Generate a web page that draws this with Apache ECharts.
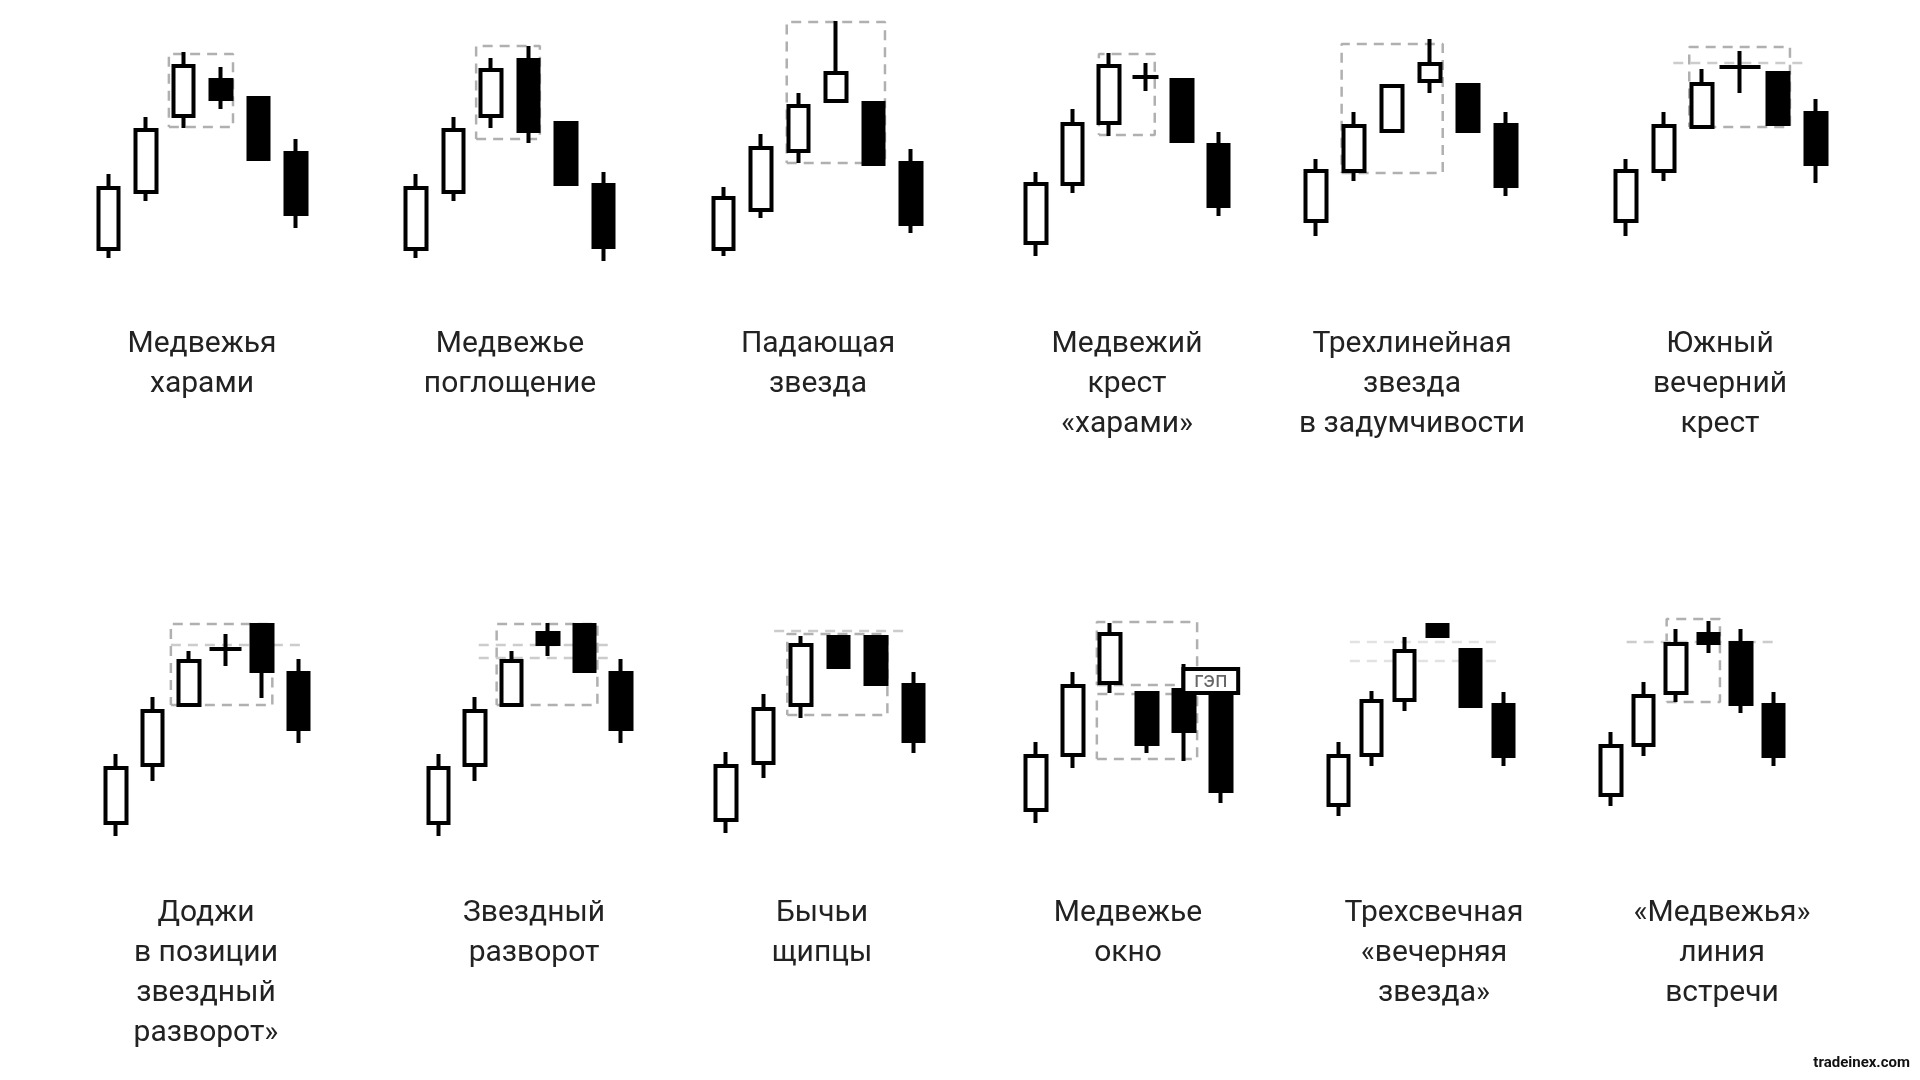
<!DOCTYPE html>
<html>
<head>
<meta charset="utf-8">
<script src="https://cdn.jsdelivr.net/npm/echarts@6/dist/echarts.min.js"></script>
<style>
  html, body { margin: 0; padding: 0; background: #fff; }
  #chart { width: 1920px; height: 1080px; }
</style>
</head>
<body>
<div id="chart"></div>
<script>
  // свечи: [open, close, low, high]; цена в пикселях от низа панели
  const haramiCandles = [[21, 82, 12, 96], [78, 140, 69, 153], [154, 204, 142, 218], [190, 171, 161, 203], [172, 111, 111, 172], [117, 56, 42, 131]];
  const engulfingCandles = [[21, 82, 12, 96], [78, 140, 69, 153], [154, 200, 142, 212], [210, 139, 127, 224], [147, 86, 86, 147], [85, 23, 9, 98]];
  const shootingCandles = [[21, 72, 14, 83], [60, 122, 52, 136], [119, 164, 107, 177], [169, 197, 169, 249], [167, 106, 106, 167], [107, 46, 37, 121]];
  const crossHaramiCandles = [[27, 86, 14, 98], [86, 146, 77, 161], [147, 204, 134, 217], '-', [190, 129, 129, 190], [125, 64, 54, 138]];
  const crossHaramiDoji = ['-', '-', '-', [193, 193, 179, 207], '-', '-'];
  const threeLineCandles = [[49, 99, 34, 111], [99, 144, 89, 158], [139, 184, 139, 184], [189, 206, 177, 231], [185, 139, 139, 185], [145, 84, 74, 158]];
  const southCrossCandles = [[49, 99, 34, 111], [99, 144, 89, 158], [143, 186, 143, 201], '-', [197, 146, 146, 197], [157, 106, 87, 171]];
  const southCrossDoji = ['-', '-', '-', [203, 203, 177, 219], '-', '-'];
  const dojiStarCandles = [[37, 92, 24, 106], [95, 149, 79, 163], [155, 199, 155, 209], '-', [235, 189, 162, 235], [187, 131, 117, 201]];
  const dojiStarDoji = ['-', '-', '-', [211, 211, 194, 226], '-', '-'];
  const starCandles = [[37, 92, 24, 106], [95, 149, 79, 163], [155, 199, 155, 209], [227, 216, 204, 237], [235, 189, 189, 235], [187, 131, 117, 201]];
  const tweezersCandles = [[40, 94, 27, 108], [97, 151, 82, 166], [155, 215, 142, 224], [223, 193, 193, 223], [223, 176, 176, 223], [175, 119, 107, 188]];
  const windowCandles = [[50, 104, 37, 118], [105, 174, 92, 188], [177, 226, 167, 237], [167, 116, 107, 167], [170, 129, 99, 196], [175, 69, 57, 175]];
  const eveningStarCandles = [[55, 104, 44, 118], [105, 159, 94, 169], [160, 209, 149, 223], [235, 224, 224, 235], [210, 154, 154, 210], [155, 104, 94, 168]];
  const meetingCandles = [[65, 114, 54, 128], [115, 164, 104, 178], [167, 216, 158, 231], [226, 217, 207, 239], [217, 156, 147, 231], [155, 104, 94, 168]];

  // пунктирные рамки: [x1, x2, low, high] в номерах свечей; уровни: [x1, x2, y]
  const haramiBoxes = [[1.61, 3.32, 143, 216]];
  const engulfingBoxes = [[1.61, 3.31, 131, 224]];
  const shootingBoxes = [[1.69, 4.31, 107, 248]];
  const crossHaramiBoxes = [[1.73, 3.26, 135, 216]];
  const threeLineBoxes = [[0.68, 3.34, 97, 226]];
  const southCrossBoxes = [[1.67, 4.32, 143, 223]];
  const southCrossLevels = [[1.25, 4.72, 207]];
  const dojiStarBoxes = [[1.51, 4.29, 155, 236]];
  const dojiStarLevels = [[1.51, 5.05, 215]];
  const starBoxes = [[1.6, 4.36, 155, 236]];
  const starLevels = [[1.11, 4.7, 215], [1.11, 4.7, 202]];
  const tweezersBoxes = [[1.64, 4.31, 145, 226]];
  const tweezersLevels = [[1.29, 4.78, 229]];
  const windowBoxes = [[1.65, 4.36, 175, 238], [1.65, 4.36, 101, 166]];
  const windowGap = [3.99, 5.47, 167, 191];
  const eveningStarLevels = [[0.35, 4.99, 218], [0.35, 4.99, 199]];
  const meetingBoxes = [[1.72, 3.36, 158, 241]];
  const meetingLevels = [[0.49, 5.15, 218]];

  const titles = [
    'Медвежья\nхарами', 'Медвежье\nпоглощение', 'Падающая\nзвезда',
    'Медвежий\nкрест\n«харами»', 'Трехлинейная\nзвезда\nв задумчивости', 'Южный\nвечерний\nкрест',
    'Доджи\nв позиции\nзвездный\nразворот»', 'Звездный\nразворот', 'Бычьи\nщипцы',
    'Медвежье\nокно', 'Трехсвечная\n«вечерняя\nзвезда»', '«Медвежья»\nлиния\nвстречи'
  ];

  const panels = [
    { candles: haramiCandles, boxes: haramiBoxes },
    { candles: engulfingCandles, boxes: engulfingBoxes },
    { candles: shootingCandles, boxes: shootingBoxes },
    { candles: crossHaramiCandles, doji: crossHaramiDoji, dojiWidth: 26, boxes: crossHaramiBoxes },
    { candles: threeLineCandles, boxes: threeLineBoxes },
    { candles: southCrossCandles, doji: southCrossDoji, dojiWidth: 41, boxes: southCrossBoxes, levels: southCrossLevels },
    { candles: dojiStarCandles, doji: dojiStarDoji, dojiWidth: 32, boxes: dojiStarBoxes, levels: dojiStarLevels },
    { candles: starCandles, boxes: starBoxes, levels: starLevels },
    { candles: tweezersCandles, boxes: tweezersBoxes, levels: tweezersLevels },
    { candles: windowCandles, boxes: windowBoxes, gap: windowGap },
    { candles: eveningStarCandles, levels: eveningStarLevels, levelColor: '#e2e2e2' },
    { candles: meetingCandles, boxes: meetingBoxes, levels: meetingLevels }
  ];

  // [левый край сетки, шаг свечей, ряд, центр подписи]
  const layout = [
    [89.75, 37.5, 0, 202], [397, 37.5, 0, 510], [704.6, 37.5, 0, 818],
    [1017.5, 36.5, 0, 1127], [1296.8, 38, 0, 1412], [1606.8, 38, 0, 1720],
    [97.5, 36.5, 1, 206], [420, 36.5, 1, 534], [707, 37.5, 1, 822],
    [1017.3, 37, 1, 1128], [1321.8, 33, 1, 1434], [1594.5, 32.5, 1, 1722]
  ];

  const chart = echarts.init(document.getElementById('chart'));

  const grid = [], xAxis = [], yAxis = [], series = [], graphic = [];

  function candleSeries(i, data, width) {
    return {
      type: 'candlestick',
      xAxisIndex: 2 * i,
      yAxisIndex: i,
      data: data,
      barWidth: width,
      z: 3,
      silent: true,
      itemStyle: {
        color: '#fff',
        color0: '#000',
        borderColor: '#000',
        borderColor0: '#000',
        borderColorDoji: '#000',
        borderWidth: 4
      }
    };
  }

  function dashedSeries(i, pts, color) {
    return {
      type: 'line',
      xAxisIndex: 2 * i + 1,
      yAxisIndex: i,
      data: pts,
      symbol: 'none',
      silent: true,
      z: 1,
      lineStyle: { color: color, width: 2.5, type: [10, 7] }
    };
  }

  panels.forEach((p, i) => {
    const [left, step, row, tx] = layout[i];
    grid.push({ left: left, top: row ? 600 : 10, width: step * 6, height: 260 });
    xAxis.push({ type: 'category', gridIndex: i, data: ['1', '2', '3', '4', '5', '6'], show: false });
    xAxis.push({ type: 'value', gridIndex: i, min: -0.5, max: 5.5, show: false });
    yAxis.push({ type: 'value', gridIndex: i, min: 0, max: 260, show: false });

    series.push(candleSeries(i, p.candles, 21));
    if (p.doji) series.push(candleSeries(i, p.doji, p.dojiWidth));

    (p.boxes || []).forEach(b => {
      series.push(dashedSeries(i, [[b[0], b[2]], [b[1], b[2]], [b[1], b[3]], [b[0], b[3]], [b[0], b[2]]], '#b0b0b0'));
    });
    (p.levels || []).forEach(l => {
      series.push(dashedSeries(i, [[l[0], l[2]], [l[1], l[2]]], p.levelColor || '#cccccc'));
    });

    if (p.gap) {
      series.push({
        type: 'line',
        xAxisIndex: 2 * i + 1,
        yAxisIndex: i,
        data: [[p.gap[0], p.gap[2]]],
        symbol: 'none',
        silent: true,
        markArea: {
          silent: true,
          z: 10,
          itemStyle: { color: '#fff', borderColor: '#000', borderWidth: 4, opacity: 1 },
          label: { show: true, position: 'inside', color: '#666', fontSize: 22, fontFamily: 'Roboto' },
          data: [[{ name: 'гэп', coord: [p.gap[0], p.gap[3]] }, { coord: [p.gap[1], p.gap[2]] }]]
        }
      });
    }

    graphic.push({
      type: 'text',
      x: tx,
      y: row ? 893 : 324,
      style: {
        text: titles[i],
        fill: '#222',
        fontSize: 30,
        fontFamily: 'Roboto',
        lineHeight: 40,
        align: 'center',
        verticalAlign: 'top'
      }
    });
  });

  graphic.push({
    type: 'text',
    x: 1910,
    y: 1063,
    style: {
      text: 'tradeinex.com',
      fill: '#111',
      fontSize: 15,
      fontWeight: 'bold',
      fontFamily: 'Roboto',
      align: 'right',
      verticalAlign: 'middle'
    }
  });

  chart.setOption({
    animation: false,
    backgroundColor: '#fff',
    grid: grid,
    xAxis: xAxis,
    yAxis: yAxis,
    series: series,
    graphic: graphic
  });
</script>
</body>
</html>
